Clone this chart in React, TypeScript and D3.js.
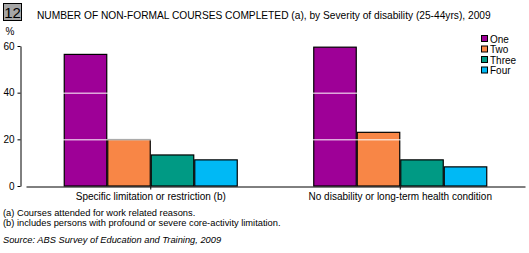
import { useEffect, useRef } from "react";
import * as d3 from "d3";

const width = 529;
const height = 253;

const categories = [
  "Specific limitation or restriction (b)",
  "No disability or long-term health condition",
];
const seriesNames = ["One", "Two", "Three", "Four"];
const seriesColors = ["#9E0097", "#F88646", "#009A84", "#00B9F5"];
const one = [56.4, 19.9, 13.3, 11.2];
const two = [59.5, 23.0, 11.2, 8.2];
const yTicks = [0, 20, 40, 60];

const font = "Tahoma, 'Liberation Sans', Arial, sans-serif";

const App = () => {
  const ref = useRef<SVGSVGElement | null>(null);

  useEffect(() => {
    const svg = d3.select(ref.current);
    svg.selectAll("*").remove();

    const values = [one, two];

    const x = d3.scaleBand().domain(categories).range([26, 525]);
    const y = d3.scaleLinear().domain([0, 60]).range([186, 46]);

    // chart number box
    svg.append("rect").attr("x", 3.5).attr("y", 3.5).attr("width", 18).attr("height", 17)
      .attr("fill", "#A6A6A6").attr("stroke", "#000");
    svg.append("text").attr("x", 12.5).attr("y", 18).attr("text-anchor", "middle")
      .attr("font-size", 15).attr("font-family", font).attr("fill", "#000").text("12");

    svg.append("text").attr("x", 37).attr("y", 19).attr("font-size", 10.2)
      .attr("font-family", font).text(
        "NUMBER OF NON-FORMAL COURSES COMPLETED (a), by Severity of disability (25-44yrs), 2009"
      );

    // bars
    categories.forEach((c, ci) => {
      const center = (x(c) ?? 0) + x.bandwidth() / 2;
      const inner = d3.scaleBand().domain(seriesNames).range([center - 87, center + 87]);
      svg.append("g").selectAll("rect")
        .data(seriesNames)
        .join("rect")
        .attr("x", (s) => (inner(s) ?? 0) + 0.5)
        .attr("y", (s, i) => y(values[ci][i]))
        .attr("width", inner.bandwidth() - 1)
        .attr("height", (s, i) => y(0) - y(values[ci][i]))
        .attr("fill", (s, i) => seriesColors[i])
        .attr("stroke", "#000")
        .attr("stroke-width", 1.2);
    });

    // white gridlines over the bars
    svg.append("g").selectAll("line")
      .data(yTicks.filter((t) => t > 0 && t < 60))
      .join("line")
      .attr("x1", 26).attr("x2", 525)
      .attr("y1", (d) => y(d) + 0.5).attr("y2", (d) => y(d) + 0.5)
      .attr("stroke", "#fff").attr("stroke-width", 1);

    // y axis
    const yAxis = d3.axisLeft(y).tickValues(yTicks).tickSize(3).tickPadding(3).tickSizeOuter(0);
    const ya = svg.append("g").attr("transform", "translate(20.5,0)").call(yAxis);
    ya.select(".domain").attr("stroke", "#000");
    ya.selectAll("text").attr("font-size", 10).attr("font-family", font).attr("fill", "#000");
    svg.append("text").attr("x", 10).attr("y", 35).attr("text-anchor", "middle")
      .attr("font-size", 10).attr("font-family", font).text("%");

    // x axis
    const xAxis = d3.axisBottom(x).tickSize(3).tickSizeOuter(0).tickPadding(3);
    const xa = svg.append("g").attr("transform", "translate(0,186.5)").call(xAxis);
    xa.select(".domain").attr("stroke", "#000");
    xa.selectAll("text").attr("font-size", 10).attr("font-family", font).attr("fill", "#000");

    // legend
    const lg = svg.append("g");
    seriesNames.forEach((s, i) => {
      const ly = 39 + i * 10.5;
      lg.append("rect").attr("x", 481.5).attr("y", ly - 3.5).attr("width", 6).attr("height", 6)
        .attr("fill", seriesColors[i]).attr("stroke", "#000");
      lg.append("text").attr("x", 490).attr("y", ly + 3.5).attr("font-size", 10)
        .attr("font-family", font).text(s);
    });

    // footnotes
    const notes = [
      { t: "(a) Courses attended for work related reasons.", y: 216, italic: false },
      { t: "(b) includes persons with profound or severe core-activity limitation.", y: 226, italic: false },
      { t: "Source: ABS Survey of Education and Training, 2009", y: 243, italic: true },
    ];
    notes.forEach((n) => {
      svg.append("text").attr("x", 3).attr("y", n.y).attr("font-size", 9.3)
        .attr("font-family", font).attr("font-style", n.italic ? "italic" : "normal").text(n.t);
    });
  }, []);

  return (
    <svg
      ref={ref}
      width={width}
      height={height}
      style={{ position: "absolute", left: 0, top: 0, background: "#fff" }}
    />
  );
};

export default App;
